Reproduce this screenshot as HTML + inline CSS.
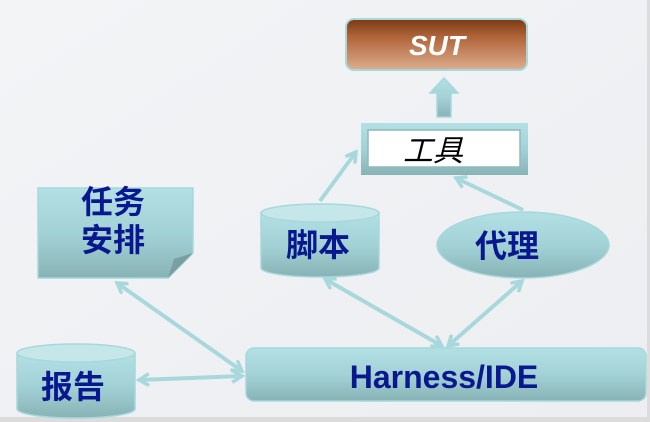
<!DOCTYPE html>
<html><head><meta charset="utf-8"><style>
html,body{margin:0;padding:0;background:#dcdcdc;}
svg{display:block;}
text{font-family:"Liberation Sans","Noto Sans CJK SC",sans-serif;}
</style></head><body>
<svg width="650" height="422" viewBox="0 0 650 422" xmlns="http://www.w3.org/2000/svg">
<defs>
<linearGradient id="bg" x1="0" y1="0" x2="1" y2="1"><stop offset="0" stop-color="#f3f4f6"/><stop offset="1" stop-color="#eceef1"/></linearGradient>
<linearGradient id="teal" x1="0" y1="0" x2="0" y2="1"><stop offset="0" stop-color="#b2e0e4"/><stop offset="0.5" stop-color="#a3d2d6"/><stop offset="1" stop-color="#88b3b6"/></linearGradient>
<linearGradient id="sut" x1="0" y1="0" x2="0" y2="1"><stop offset="0" stop-color="#7a3a14"/><stop offset="0.35" stop-color="#b0643a"/><stop offset="1" stop-color="#dcae8e"/></linearGradient>
<marker id="ah" markerWidth="14" markerHeight="14" refX="11" refY="7" orient="auto-start-reverse" markerUnits="userSpaceOnUse">
<path d="M1,1 L11,7 L1,13" fill="none" stroke="#a8d8dc" stroke-width="3.5"/></marker>
</defs>
<rect x="0" y="0" width="647" height="417" fill="url(#bg)"/>
<!-- SUT -->
<rect x="346" y="19" width="181" height="51" rx="8" fill="url(#sut)" stroke="#a6d8dc" stroke-width="2"/>
<text x="437" y="55" text-anchor="middle" font-size="28" font-weight="bold" font-style="italic" fill="#fff">SUT</text>
<!-- up arrow -->
<path d="M437,117 L437,93 L430,93 L444,78 L458,93 L451,93 L451,117 Z" fill="url(#teal)" stroke="#a6d8dc" stroke-width="1.5"/>
<!-- tool -->
<rect x="361" y="123" width="167" height="52" fill="url(#teal)"/>
<rect x="368" y="130" width="152" height="37" fill="#fff" stroke="#8fb9bc" stroke-width="1.5"/>
<text x="433" y="161" text-anchor="middle" font-size="30" font-style="italic" fill="#000" font-family="'Noto Serif CJK SC',serif">工具</text>
<!-- connectors -->
<g stroke="#a8d8dc" stroke-width="4" fill="none">
<line x1="320" y1="201" x2="356" y2="152" marker-end="url(#ah)"/>
<line x1="523" y1="210" x2="456" y2="178" marker-end="url(#ah)"/>
<line x1="117" y1="283" x2="242" y2="371" marker-start="url(#ah)" marker-end="url(#ah)"/>
<line x1="139" y1="380" x2="242" y2="376" marker-start="url(#ah)" marker-end="url(#ah)"/>
<line x1="325" y1="279" x2="442" y2="346" marker-start="url(#ah)" marker-end="url(#ah)"/>
<line x1="522" y1="281" x2="448" y2="346" marker-start="url(#ah)" marker-end="url(#ah)"/>
</g>
<!-- task doc -->
<path d="M38,188 L193,188 L193,253 L168,278 L38,278 Z" fill="url(#teal)" stroke="#a6d8dc" stroke-width="1.5"/>
<path d="M168,278 L174,259 L193,253 Z" fill="#7a9fa2"/>
<text x="113" y="213" text-anchor="middle" font-size="32" fill="#0a1890" font-weight="bold">任务</text>
<text x="113" y="251" text-anchor="middle" font-size="32" fill="#0a1890" font-weight="bold">安排</text>
<!-- script cylinder -->
<path d="M261,213 L261,268 A59,9 0 0 0 379,268 L379,213 Z" fill="url(#teal)" stroke="#a6d8dc" stroke-width="1.5"/>
<ellipse cx="320" cy="213" rx="59" ry="9" fill="#c6e7ea" stroke="#a6d8dc" stroke-width="1.5"/>
<text x="318" y="256" text-anchor="middle" font-size="32" fill="#0a1890" font-weight="bold">脚本</text>
<!-- agent ellipse -->
<ellipse cx="523" cy="245" rx="86" ry="33" fill="url(#teal)" stroke="#a6d8dc" stroke-width="1.5"/>
<text x="507" y="257" text-anchor="middle" font-size="32" fill="#0a1890" font-weight="bold">代理</text>
<!-- report cylinder -->
<path d="M17,353 L17,409 A59,9 0 0 0 135,409 L135,353 Z" fill="url(#teal)" stroke="#a6d8dc" stroke-width="1.5"/>
<ellipse cx="76" cy="353" rx="59" ry="9" fill="#c6e7ea" stroke="#a6d8dc" stroke-width="1.5"/>
<text x="73" y="398" text-anchor="middle" font-size="32" fill="#0a1890" font-weight="bold">报告</text>
<!-- harness -->
<rect x="246" y="348" width="400" height="53" rx="8" fill="url(#teal)" stroke="#a6d8dc" stroke-width="1.5"/>
<text x="444" y="388" text-anchor="middle" font-size="32" font-weight="bold" fill="#0a1890">Harness/IDE</text>
</svg>
</body></html>
